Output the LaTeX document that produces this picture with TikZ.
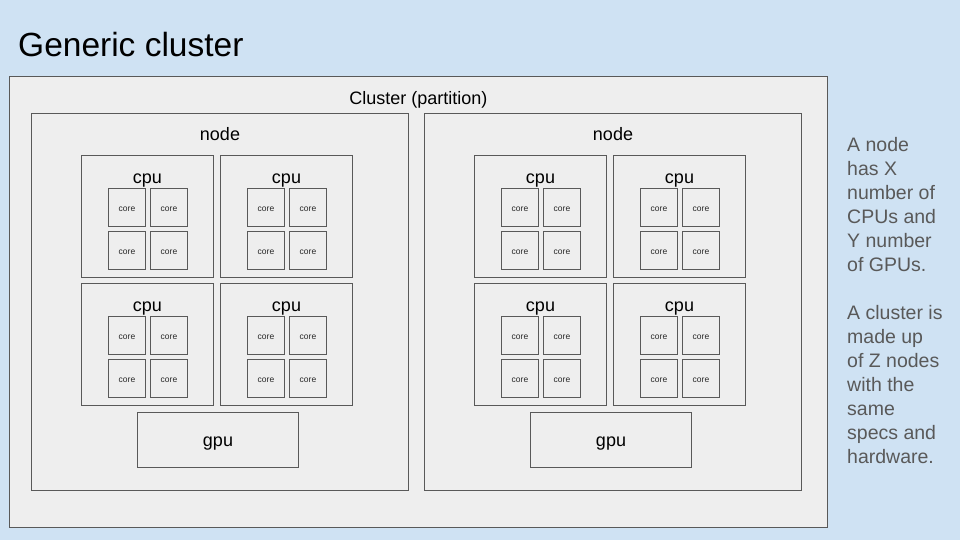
\documentclass[tikz,border=0pt]{standalone}
\usepackage{fontspec}
\setmainfont{Liberation Sans}
\definecolor{bgc}{HTML}{CFE2F3}
\definecolor{boxc}{HTML}{EEEEEE}
\definecolor{linec}{HTML}{595959}
\definecolor{txtc}{HTML}{595959}
\tikzset{
  box/.style={draw=linec, fill=boxc, line width=1pt, inner sep=0pt, outer sep=0pt, anchor=north west},
  lbl/.style={inner sep=0pt, text=black, font=\fontsize{18}{22}\selectfont},
  corelbl/.style={inner sep=0pt, text=black!85, font=\fontsize{8.5}{10}\selectfont},
}
\newcommand\cpublock[3]{%
  \node[box, minimum width=132.4pt, minimum height=122pt] (#1) at (#2,#3) {};
  \node[lbl, anchor=center] (#1l) at ([xshift=66.2pt,yshift=-25.5pt]#1.north west) {cpu};
  \node[box, minimum width=37.4pt, minimum height=38pt] (#1a) at ([xshift=27pt,yshift=-33pt]#1.north west) {};
  \node[box, minimum width=37.4pt, minimum height=38pt] (#1b) at ([xshift=69pt,yshift=-33pt]#1.north west) {};
  \node[box, minimum width=37.4pt, minimum height=38pt] (#1c) at ([xshift=27pt,yshift=-76pt]#1.north west) {};
  \node[box, minimum width=37.4pt, minimum height=38pt] (#1d) at ([xshift=69pt,yshift=-76pt]#1.north west) {};
  \node[corelbl] (#1at) at ([yshift=-1.5pt]#1a.center) {core};
  \node[corelbl] (#1bt) at ([yshift=-1.5pt]#1b.center) {core};
  \node[corelbl] (#1ct) at ([yshift=-1.5pt]#1c.center) {core};
  \node[corelbl] (#1dt) at ([yshift=-1.5pt]#1d.center) {core};
}
\newcommand\nodeblock[2]{%
  \node[box, minimum width=377.5pt, minimum height=376.8pt] (#1) at (#2+31.3,-113.5) {};
  \node[lbl] (#1l) at (#2+220,-134) {node};
  \cpublock{#1p1}{#2+81.3}{-155.3}
  \cpublock{#1p2}{#2+220.3}{-155.3}
  \cpublock{#1p3}{#2+81.3}{-283.3}
  \cpublock{#1p4}{#2+220.3}{-283.3}
  \node[box, minimum width=161.4pt, minimum height=54.7pt] (#1g) at (#2+137.3,-412.3) {};
  \node[lbl] (#1gl) at ([yshift=-3.5pt]#1g.center) {gpu};
}
\begin{document}
\begin{tikzpicture}[x=1pt,y=1pt]
  \fill[bgc] (0,0) rectangle (960,-540);
  \useasboundingbox (0,0) rectangle (960,-540);
  \node[inner sep=0pt, anchor=base west, font=\fontsize{33.5}{40}\selectfont] (title) at (18,-56.5) {Generic cluster};
  \node[box, minimum width=818pt, minimum height=451pt] (cluster) at (9.5,-76.5) {};
  \node[lbl] (clusterl) at (418.5,-100) {Cluster (partition)};
  \nodeblock{na}{0}
  \nodeblock{nb}{393}
  \node[inner sep=0pt, anchor=north west, align=left, text=txtc,
        font=\fontsize{19.5}{24}\selectfont] (note) at (847,-137) {%
A node\\has X\\number of\\CPUs and\\Y number\\of GPUs.\\[24pt]A cluster is\\made up\\of Z nodes\\with the\\same\\specs and\\hardware.};
\end{tikzpicture}
\end{document}
